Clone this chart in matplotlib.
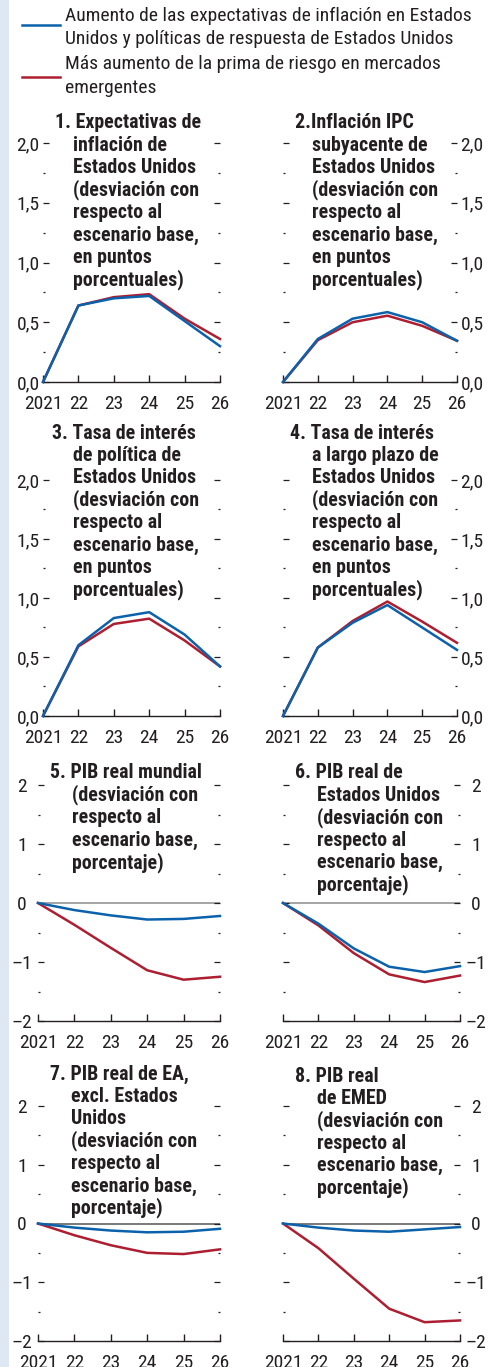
import matplotlib
matplotlib.use('Agg')
import matplotlib.pyplot as plt
from matplotlib import font_manager
from matplotlib.lines import Line2D
from matplotlib.patches import Rectangle

names = {f.name for f in font_manager.fontManager.ttflist}
wanted = ['Roboto Condensed', 'Archivo Narrow', 'PT Sans Narrow', 'IBM Plex Sans Condensed',
          'Encode Sans Condensed', 'Liberation Sans Narrow', 'Liberation Sans']
narrow = next(n for n in wanted if n in names)
plt.rcParams['font.family'] = [narrow, 'DejaVu Sans']

# data
years = [2021, 2022, 2023, 2024, 2025, 2026]
year_labels = ['2021', '22', '23', '24', '25', '26']

legend_labels = [['Aumento de las expectativas de inflación en Estados',
                  'Unidos y políticas de respuesta de Estados Unidos'],
                 ['Más aumento de la prima de riesgo en mercados', 'emergentes']]

p1_blue = [0, 0.64, 0.70, 0.72, 0.51, 0.30]
p1_red = [0, 0.64, 0.71, 0.735, 0.53, 0.36]
p2_blue = [0, 0.36, 0.53, 0.585, 0.50, 0.345]
p2_red = [0, 0.35, 0.50, 0.555, 0.47, 0.345]
p3_blue = [0, 0.60, 0.83, 0.88, 0.69, 0.42]
p3_red = [0, 0.59, 0.78, 0.825, 0.64, 0.42]
p4_blue = [0, 0.58, 0.79, 0.94, 0.75, 0.56]
p4_red = [0, 0.58, 0.805, 0.97, 0.80, 0.62]
p5_blue = [0, -0.12, -0.21, -0.28, -0.27, -0.22]
p5_red = [0, -0.37, -0.76, -1.14, -1.30, -1.25]
p6_blue = [0, -0.35, -0.77, -1.08, -1.17, -1.07]
p6_red = [0, -0.38, -0.85, -1.21, -1.34, -1.23]
p7_blue = [0, -0.07, -0.12, -0.15, -0.14, -0.09]
p7_red = [0, -0.20, -0.37, -0.50, -0.52, -0.44]
p8_blue = [0, -0.07, -0.12, -0.14, -0.10, -0.06]
p8_red = [0, -0.42, -0.94, -1.45, -1.68, -1.65]

rate_ticks = [0, 0.5, 1.0, 1.5, 2.0]
rate_labels = ['0,0', '0,5', '1,0', '1,5', '2,0']
rate_minor = [0.25, 0.75, 1.25, 1.75]
gdp_ticks = [-2, -1, 0, 1, 2]
gdp_labels = ['\u20132', '\u20131', '0', '1', '2']
gdp_minor = [-1.5, -0.5, 0.5, 1.5]

titles = [
    ['1. Expectativas de', 'inflación de', 'Estados Unidos', '(desviación con', 'respecto al',
     'escenario base,', 'en puntos', 'porcentuales)'],
    ['2.Inflación IPC', 'subyacente de', 'Estados Unidos', '(desviación con', 'respecto al',
     'escenario base,', 'en puntos', 'porcentuales)'],
    ['3. Tasa de interés', 'de política de', 'Estados Unidos', '(desviación con', 'respecto al',
     'escenario base,', 'en puntos', 'porcentuales)'],
    ['4. Tasa de interés', 'a largo plazo de', 'Estados Unidos', '(desviación con', 'respecto al',
     'escenario base,', 'en puntos', 'porcentuales)'],
    ['5. PIB real mundial', '(desviación con', 'respecto al', 'escenario base,', 'porcentaje)'],
    ['6. PIB real de', 'Estados Unidos', '(desviación con', 'respecto al', 'escenario base,', 'porcentaje)'],
    ['7. PIB real de EA,', 'excl. Estados', 'Unidos', '(desviación con', 'respecto al',
     'escenario base,', 'porcentaje)'],
    ['8. PIB real', 'de EMED', '(desviación con', 'respecto al', 'escenario base,', 'porcentaje)'],
]

blue = '#0b62ab'
red = '#ad1e31'
dark = '#231f20'

W, H = 492, 1367
fig = plt.figure(figsize=(W / 100, H / 100), dpi=100)
fig.patches.append(Rectangle((0, 0), 9 / W, 1, transform=fig.transFigure,
                             facecolor='#dfe7f3', edgecolor='none', zorder=0))

# legend (baselines in pixels)
for ly, base, col, labs in [(25, 20.7, blue, legend_labels[0]), (77, 69.3, red, legend_labels[1])]:
    fig.add_artist(Line2D([22 / W, 60 / W], [1 - ly / H, 1 - ly / H], color=col, lw=1.8))
    for k, lab in enumerate(labs):
        fig.text(65 / W, 1 - (base + 23.3 * k) / H, lab, fontsize=14, color=dark, va='baseline')

# panel boxes in pixels: x0, top, x1, bottom
boxes = [(43, 143, 220, 382), (283, 143, 457, 382),
         (43, 480, 220, 716), (283, 480, 457, 716),
         (38, 785, 220, 1021), (283, 785, 460, 1021),
         (38, 1106, 220, 1341), (283, 1106, 460, 1341)]
title_pos = [(55, 73, 128.5), (295, 312, 128.5),
             (52, 73, 438.5), (290, 312, 438.5),
             (50, 72, 778.5), (295, 317, 778.5),
             (50, 71, 1079.5), (295, 317, 1081.5)]
series = [(p1_blue, p1_red), (p2_blue, p2_red), (p3_blue, p3_red), (p4_blue, p4_red),
          (p5_blue, p5_red), (p6_blue, p6_red), (p7_blue, p7_red), (p8_blue, p8_red)]

for i, (box, (b, r)) in enumerate(zip(boxes, series)):
    x0, top, x1, bot = box
    ax = fig.add_axes([x0 / W, 1 - bot / H, (x1 - x0) / W, (bot - top) / H])
    ax.patch.set_alpha(0)
    gdp = i >= 4
    right = i % 2 == 1

    if gdp:
        zc = '#8c8c8c' if i < 6 else '#555555'
        ax.axhline(0, color=zc, lw=1.1, zorder=1)
    ax.plot(years, r, color=red, lw=1.8, clip_on=False, zorder=2)
    ax.plot(years, b, color=blue, lw=1.8, clip_on=False, zorder=3)

    ax.set_xlim(2021, 2026)
    for s in ['top', 'left', 'right']:
        ax.spines[s].set_visible(False)
    ax.spines['bottom'].set_color(dark)
    ax.spines['bottom'].set_linewidth(1.0)
    ax.set_xticks(years, year_labels)
    ax.tick_params(axis='x', direction='in', length=5, width=1, color=dark,
                   labelsize=14, labelcolor=dark, pad=9.5)

    if gdp:
        ax.set_ylim(-2, 2)
        ax.set_yticks(gdp_ticks, gdp_labels)
        ax.set_yticks(gdp_minor, minor=True)
        ypad = 11.5
    else:
        ax.set_ylim(0, 2)
        ax.set_yticks(rate_ticks, rate_labels)
        ax.set_yticks(rate_minor, minor=True)
        ypad = 2.5
    ax.tick_params(axis='y', which='both', direction='in', left=True, right=True,
                   labelleft=not right, labelright=right, color=dark, width=0.9,
                   labelsize=14, labelcolor=dark, pad=ypad)
    ax.tick_params(axis='y', which='major', length=4.3)
    ax.tick_params(axis='y', which='minor', length=1.3)
    if gdp:
        plt.setp(ax.get_yticklabels(), ha='center')

    fx, rx, fy = title_pos[i]
    for k, line in enumerate(titles[i]):
        tx = fx if k == 0 else rx
        ty = fy + 22.4 * k
        fig.text(tx / W, 1 - ty / H, line, fontsize=14.3, fontweight='bold', color=dark,
                 va='baseline', ha='left')

fig.savefig('out.png', dpi=100)
